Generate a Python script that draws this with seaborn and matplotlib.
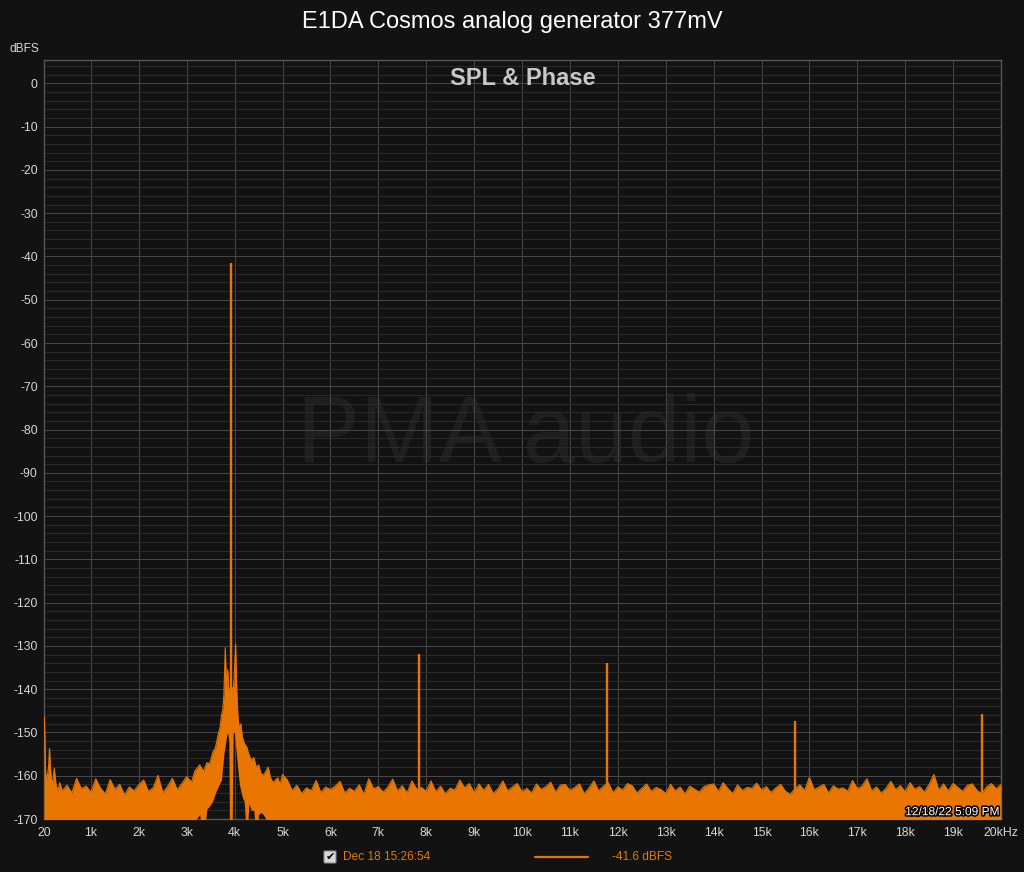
import numpy as np
import pandas as pd
import matplotlib
matplotlib.use("Agg")
import matplotlib.pyplot as plt
import seaborn as sns
from matplotlib.lines import Line2D
from matplotlib.patches import FancyBboxPatch
from matplotlib.ticker import MultipleLocator, FixedLocator
import matplotlib.patheffects as pe

# ---------------- data ----------------
low_f = [20, 30, 55, 80, 115, 135, 160, 190, 235, 270, 310, 350]
low_db = [-146.3, -147.0, -159.5, -161.0, -158.0, -153.7, -159.0, -162.5,
          -158.3, -162.0, -163.5, -161.6]

floor1_f = list(range(400, 3000, 100))
floor1_db = [-163.5, -162.2, -164.0, -160.6, -163.0, -162.4,
             -163.8, -160.7, -162.9, -164.2, -160.9, -163.1, -162.0, -164.4, -162.6, -163.5,
             -162.1, -161.0, -163.6, -162.8, -159.9, -163.9, -162.5, -160.6, -163.2, -161.8]

skirt_f = [3000, 3100, 3170, 3270, 3350, 3420, 3480, 3545, 3600, 3650, 3700, 3725,
           3750, 3775, 3805, 3830, 3855, 3880, 3900, 3945, 3970, 3995, 4020, 4045,
           4070, 4100, 4130, 4160, 4200, 4250, 4300, 4350, 4400, 4450, 4500, 4550,
           4600, 4650, 4700, 4750, 4800, 4850, 4900, 4950, 5000]
skirt_hi = [-160.2, -161.5, -158.9, -157.5, -159.0, -157.0, -157.2, -154.6, -153.5, -150.8,
            -148.5, -146.0, -145.0, -141.5, -130.4, -140.0, -135.5, -140.5, -140.0, -139.5,
            -141.0, -136.0, -129.6, -140.5, -146.5, -149.4, -148.0, -151.0, -152.5, -153.3,
            -155.2, -156.4, -155.8, -158.0, -157.5, -159.5, -159.9, -159.0, -158.0, -160.5,
            -161.6, -161.0, -160.5, -162.0, -159.7]
skirt_lo = [-175, -172.0, -170.5, -169.0, -175, -167.7, -167.0, -165.8, -164.0, -162.7,
            -161.5, -161.0, -158.0, -155.0, -153.0, -151.0, -150.0, -152.0, -175, -175,
            -150.0, -150.0, -153.0, -156.0, -159.0, -162.0, -163.5, -165.0, -166.0, -175,
            -166.5, -168.0, -168.0, -175, -169.0, -168.5, -169.0, -170.0, -175, -170.5,
            -170.0, -171.0, -170.0, -172.0, -175]

floor2_f = list(range(5100, 20100, 100))
floor2_db = [
    -161.0, -163.4, -162.2, -164.1, -162.8, -163.5, -161.1, -163.9, -162.6, -163.2,
    -162.4, -161.3, -164.0, -162.9, -163.6, -162.1, -164.3, -160.7, -163.0, -162.5,
    -163.8, -162.6, -160.8, -163.5, -162.3, -164.0, -161.2, -163.1, -162.7, -163.6,
    -161.2, -163.7, -162.4, -164.2, -162.9, -163.3, -161.0, -162.8, -161.8, -163.9,
    -161.9, -163.4, -162.0, -164.1, -163.0, -161.2, -163.5, -162.6, -161.8, -163.7,
    -162.9, -164.0, -161.9, -163.2, -162.5, -161.5, -163.8, -162.2, -162.0, -163.4,
    -162.7, -161.9, -164.2, -162.8, -161.2, -163.5, -162.4, -161.6, -163.9, -162.6,
    -163.3, -161.8, -162.3, -164.0, -162.9, -161.9, -163.6, -162.7, -163.2, -164.1,
    -162.0, -163.5, -162.6, -164.2, -162.4, -163.1, -163.8, -162.5, -162.1, -161.9,
    -163.6, -161.6, -163.0, -164.1, -162.1, -163.4, -162.7, -162.9, -161.7, -163.3,
    -162.5, -163.9, -162.8, -162.0, -163.6, -164.3, -163.0, -162.1, -163.4, -160.4,
    -163.2, -162.6, -162.0, -164.0, -162.3, -163.1, -162.8, -163.6, -161.1, -163.0,
    -162.4, -160.7, -163.5, -162.6, -164.0, -162.9, -161.3, -163.2, -162.3, -163.7,
    -161.6, -163.1, -162.5, -163.8, -162.0, -159.7, -163.3, -161.9, -163.5, -161.8,
    -162.7, -163.6, -162.2, -161.9, -163.4, -164.2, -162.6, -161.8, -163.0, -162.0]

# fundamental and harmonics
tone_f = [3922, 7846, 11764, 15693, 19610]
tone_db = [-41.6, -131.9, -134.0, -147.3, -145.8]

x_ticks = [20] + list(range(1000, 21000, 1000))
x_labels = ["20"] + [f"{k}k" for k in range(1, 20)] + ["20kHz"]
y_ticks = list(range(-170, 1, 10))

BASE = -175
freq = low_f + floor1_f + skirt_f + floor2_f
hi = low_db + floor1_db + skirt_hi + floor2_db
lo = [BASE] * len(low_f) + [BASE] * len(floor1_f) + skirt_lo + [BASE] * len(floor2_f)
df = pd.DataFrame({"freq": freq, "hi": hi, "lo": lo})

# ---------------- style ----------------
BG = "#121212"
ORANGE = "#E87600"
sns.set_theme(style="dark")
plt.rcParams["font.family"] = ["Liberation Sans", "DejaVu Sans"]

fig = plt.figure(figsize=(10.24, 8.72), dpi=100, facecolor=BG)
ax = fig.add_axes([44 / 1024, 53 / 872, 957 / 1024, 759 / 872])
ax.set_facecolor(BG)

ax.fill_between(df["freq"], df["lo"], df["hi"], color=ORANGE, lw=0, zorder=3)
sns.lineplot(data=df, x="freq", y="hi", color=ORANGE, lw=0.8, estimator=None,
             sort=False, ax=ax, zorder=3)
ax.vlines(tone_f, BASE, tone_db, color=ORANGE, lw=1.7, zorder=4)

ax.set_xlim(20, 20000)
ax.set_ylim(-170, 5.4)
ax.xaxis.set_major_locator(FixedLocator(x_ticks))
ax.set_xticklabels(x_labels)
ax.yaxis.set_major_locator(FixedLocator(y_ticks))
ax.set_yticklabels([str(v) for v in y_ticks])
ax.yaxis.set_minor_locator(MultipleLocator(2))
ax.set_xlabel("")
ax.set_ylabel("")

ax.set_axisbelow(True)
ax.grid(which="major", axis="both", color="#474747", lw=0.72)
ax.grid(which="minor", axis="y", color="#2b2b2b", lw=0.72)
ax.tick_params(which="both", length=0, colors="#d6d6d6", labelsize=8.8)
ax.tick_params(axis="x", pad=5.5)
ax.tick_params(axis="y", pad=4.5)
for s in ax.spines.values():
    s.set_color("#555555")
    s.set_linewidth(1.0)
    s.set_visible(True)

# texts
fig.text(0.5, 1 - 22 / 872, "E1DA Cosmos analog generator 377mV", ha="center",
         va="center", color="white", fontsize=17)
fig.text(10 / 1024, 1 - 49 / 872, "dBFS", ha="left", va="center", color="#d6d6d6",
         fontsize=8.6)
ax.text(0.5005, 0.975, "SPL & Phase", transform=ax.transAxes, ha="center", va="center",
        color="#c8c8c8", fontsize=17, fontweight="bold", zorder=6)
ax.text(0.503, 0.503, "PMA audio", transform=ax.transAxes, ha="center", va="center",
        color="#1f1f1f", fontsize=68, zorder=0.5)
ax.text(0.998, 0.009, "12/18/22 5:09 PM", transform=ax.transAxes, ha="right",
        va="center", color="white", fontsize=8.6, zorder=7,
        path_effects=[pe.withStroke(linewidth=2.2, foreground="black")])

# legend row at bottom
ly = 1 - 857 / 872
box = FancyBboxPatch((324 / 1024, 1 - 863 / 872), 12 / 1024, 12 / 872,
                     boxstyle="round,pad=0,rounding_size=0.001",
                     transform=fig.transFigure, facecolor="#d9d9d9",
                     edgecolor="#8a8a8a", lw=0.8)
fig.add_artist(box)
fig.text(330 / 1024, ly, "\u2714", ha="center", va="center", color="black",
         fontsize=8, family="DejaVu Sans")
fig.text(343 / 1024, ly, "Dec 18 15:26:54", ha="left", va="center", color=ORANGE,
         fontsize=8.6)
fig.add_artist(Line2D([535 / 1024, 588 / 1024], [ly, ly], transform=fig.transFigure,
                      color=ORANGE, lw=1.6))
fig.text(612 / 1024, ly, "-41.6 dBFS", ha="left", va="center", color=ORANGE,
         fontsize=8.6)

fig.savefig("out.png", dpi=100, facecolor=BG)
